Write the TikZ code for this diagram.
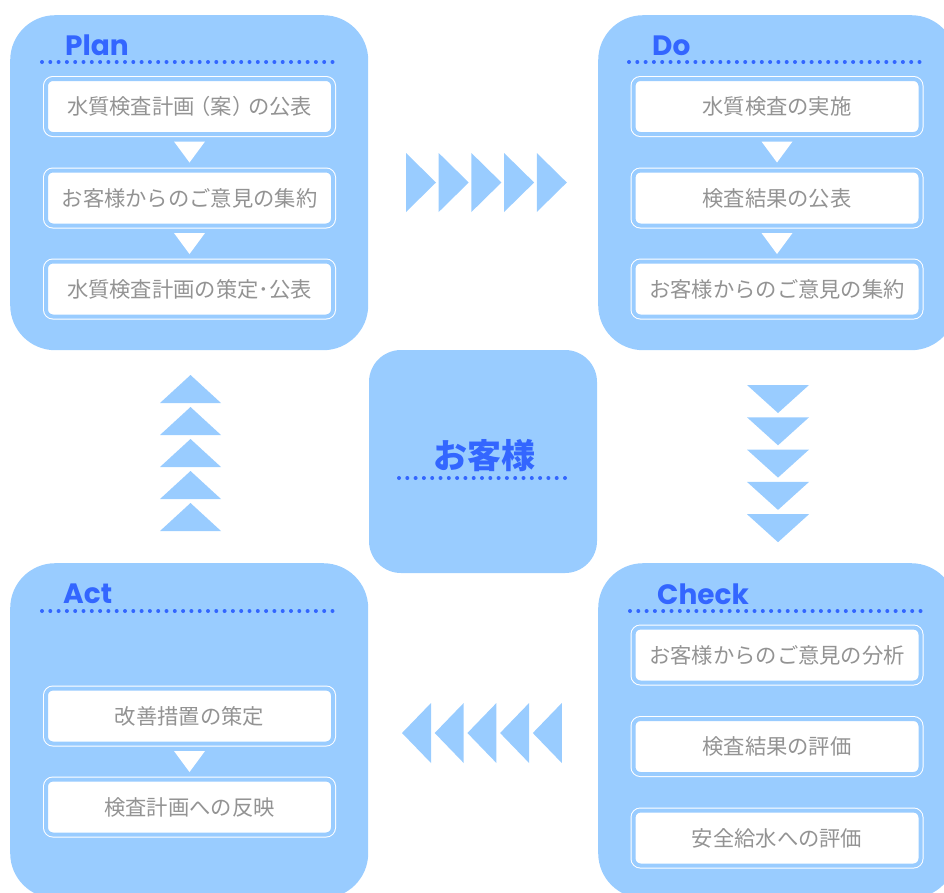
\documentclass[tikz,border=0pt]{standalone}
\usepackage{fontspec}
\setmainfont{Noto Sans CJK JP}
\newfontfamily\jpfont{Noto Sans CJK JP}
\newfontfamily\titlefont{Poppins}
\usetikzlibrary{calc}
\definecolor{boxblue}{HTML}{99CCFF}
\definecolor{titleblue}{HTML}{3366FF}
\definecolor{textgray}{HTML}{939393}
\tikzset{
  phase/.style={fill=boxblue, rounded corners=45pt, minimum width=358pt, minimum height=335pt, anchor=north west, inner sep=0pt},
  item/.style={fill=white, draw=white, line width=1pt, double=boxblue, double distance=4pt,
    rounded corners=7pt, minimum width=287pt, minimum height=55pt, inner sep=0pt,
    text=textgray, font=\jpfont\fontsize{21.3}{21.3}\selectfont},
  ptitle/.style={anchor=base west, inner sep=0pt, text=titleblue, font=\titlefont\bfseries\fontsize{28}{28}\selectfont},
  dotline/.style={titleblue, line width=4pt, line cap=round, dash pattern=on 0pt off 8.3pt},
  downtri/.style={fill=white},
  chevron/.style={fill=boxblue}
}
\begin{document}
\begin{tikzpicture}[x=1pt,y=-1pt]
\useasboundingbox (0,0) rectangle (944,892);
\clip (0,0) rectangle (944,892);

% phase boxes
\node[phase] (plan) at (10,15) {};
\node[phase] (do) at (598,15) {};
\node[phase] (act) at (10,563) {};
\node[phase] (check) at (598,563) {};
\node[fill=boxblue, rounded corners=32pt, minimum width=228pt, minimum height=223pt, inner sep=0pt] (cust) at (483,461.5) {};

% titles
\node[ptitle] (plantitle) at (65,55) {Plan};
\node[ptitle] (dotitle) at (652,55) {Do};
\node[ptitle] (acttitle) at (63,603) {Act};
\node[ptitle] (checktitle) at (657,604) {Check};
\draw[dotline] (42,62) -- (334,62);
\draw[dotline] (629,62) -- (922,62);
\draw[dotline] (42,611) -- (334,611);
\draw[dotline] (630,611) -- (922,611);

% center
\node[text=titleblue, font=\jpfont\bfseries\fontsize{34}{34}\selectfont, inner sep=0pt] (custtext) at (484,456) {お客様};
\draw[dotline] (399,478) -- (566,478);

% Plan items
\node[item] (p1) at (189.5,106.5) {水質検査計画\hspace{-0.25em}（案）\hspace{-0.25em}の公表};
\node[item] (p2) at (189.5,198) {お客様からのご意見の集約};
\node[item] (p3) at (189.5,289) {水質検査計画の策定･公表};
% Do items
\node[item] (d1) at (777,106.5) {水質検査の実施};
\node[item] (d2) at (777,198) {検査結果の公表};
\node[item] (d3) at (777,289) {お客様からのご意見の集約};
% Act items
\node[item] (a1) at (189.5,716) {改善措置の策定};
\node[item] (a2) at (189.5,807) {検査計画への反映};
% Check items
\node[item] (c1) at (777,655) {お客様からのご意見の分析};
\node[item] (c2) at (777,746.5) {検査結果の評価};
\node[item] (c3) at (777,838) {安全給水への評価};

% small white arrows between items
\foreach \n in {p1,p2,d1,d2,a1}{
  \fill[downtri] ($(\n.south)+(-15.5,7)$) -- ($(\n.south)+(15.5,7)$) -- ($(\n.south)+(0,28)$) -- cycle;
}

% big chevrons
\foreach \i in {0,...,4}{
  % right (Plan -> Do)
  \fill[chevron] (406+32.7*\i,153) -- (436+32.7*\i,182.5) -- (406+32.7*\i,212) -- cycle;
  % down (Do -> Check)
  \fill[chevron] (747,385+32.3*\i) -- (809,385+32.3*\i) -- (778,413+32.3*\i) -- cycle;
  % left (Check -> Act)
  \fill[chevron] (431+32.7*\i,703) -- (402+32.7*\i,733) -- (431+32.7*\i,763) -- cycle;
  % up (Act -> Plan)
  \fill[chevron] (160,403+32*\i) -- (190.5,375+32*\i) -- (221,403+32*\i) -- cycle;
}
\end{tikzpicture}
\end{document}
